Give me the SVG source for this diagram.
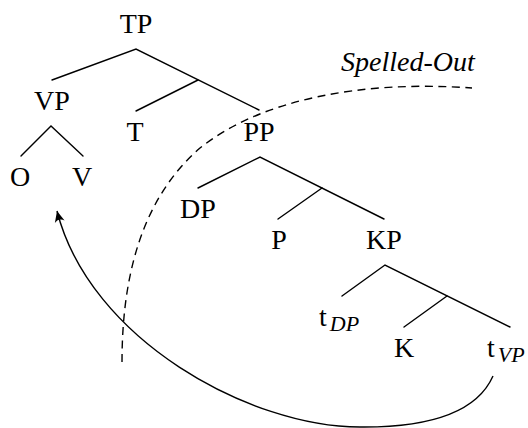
<svg xmlns="http://www.w3.org/2000/svg" width="528" height="428" viewBox="0 0 528 428">
<style>
.lab{text-anchor:middle}
.sub{font-style:italic;font-size:22px}
.br{stroke:#000;stroke-width:1.4;fill:none;stroke-linecap:round}
.dash{stroke:#000;stroke-width:1.4;fill:none;stroke-dasharray:8 5.5}
.mv{stroke:#000;stroke-width:1.4;fill:none}
</style>
<defs>
<marker id="ah" viewBox="-12 -6 14 12" markerWidth="14" markerHeight="12" refX="0" refY="0" orient="auto" markerUnits="userSpaceOnUse">
<path d="M0,0 L-11,-5 Q-7,0 -11,5 Z" fill="#000"/>
</marker>
</defs>
<rect width="528" height="428" fill="#fff"/>
<g id="connectors">
<path class="br" d="M52 80 L136 49 L259 110"/>
<path class="br" d="M198 80 L136 111"/>
<path class="br" d="M21 156 L51 126 L83 156"/>
<path class="br" d="M198 188 L260 157 L384 219"/>
<path class="br" d="M322 188 L278 219"/>
<path class="br" d="M342 296 L385 265 L510 327"/>
<path class="br" d="M447 296 L404 327"/>
<path class="dash" d="M122 362 C122 280, 140 200, 200 148 C260 100, 360 80, 472 88"/>
<path class="mv" d="M493 376 Q470 428 360 427 C250 427, 90 340, 57 211" marker-end="url(#ah)"/>
</g>
<g font-family="Liberation Serif, serif" font-size="28" fill="#000">
<g id="TP"><text class="lab" x="136" y="33">TP</text></g>
<g id="VP"><text class="lab" x="52" y="110">VP</text></g>
<g id="T"><text class="lab" x="135" y="141">T</text></g>
<g id="PP"><text class="lab" x="259" y="141">PP</text></g>
<g id="O"><text class="lab" x="20" y="186">O</text></g>
<g id="V"><text class="lab" x="82" y="186">V</text></g>
<g id="DP"><text class="lab" x="198" y="218">DP</text></g>
<g id="P"><text class="lab" x="279" y="249">P</text></g>
<g id="KP"><text class="lab" x="384" y="249">KP</text></g>
<g id="tDP"><text x="319" y="326">t<tspan class="sub" dx="3" dy="5">DP</tspan></text></g>
<g id="K"><text class="lab" x="404" y="357">K</text></g>
<g id="tVP"><text x="487" y="357">t<tspan class="sub" dx="3" dy="5">VP</tspan></text></g>
<g id="spelled"><text x="341" y="71" font-style="italic">Spelled-Out</text></g>
</g>
</svg>
